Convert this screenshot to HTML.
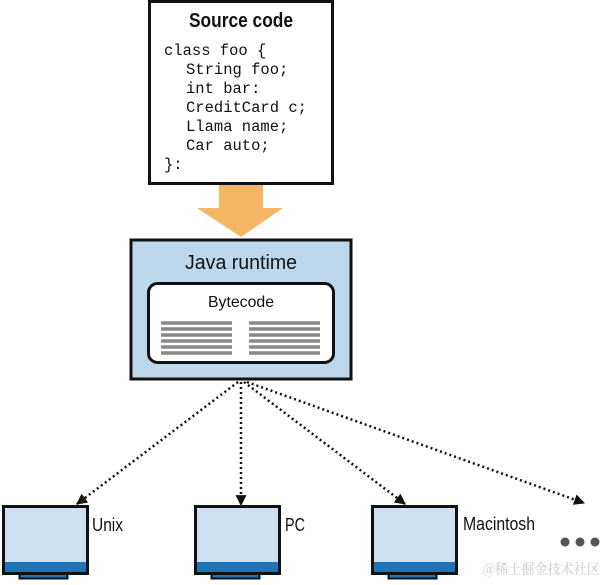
<!DOCTYPE html>
<html><head><style>
body{margin:0;width:600px;height:580px;background:#fff;overflow:hidden}
</style></head><body>
<svg width="600" height="580" xmlns="http://www.w3.org/2000/svg">
<defs>
<marker id="ah" viewBox="0 0 10 10" refX="9" refY="5" markerWidth="11" markerHeight="11" markerUnits="userSpaceOnUse" orient="auto"><path d="M0,0 L10,5 L0,10 z" fill="#111"/></marker>
</defs>
<rect x="149.5" y="1.5" width="183" height="182" fill="#fff" stroke="#111" stroke-width="3"/>
<text x="241" y="27" text-anchor="middle" font-family="Liberation Sans Narrow, Liberation Sans, sans-serif" font-weight="bold" font-size="20" fill="#111" textLength="104" lengthAdjust="spacingAndGlyphs">Source code</text>
<g font-family="Liberation Mono, monospace" font-size="15.5" fill="#111">
<text x="164" y="55">class foo {</text>
<text x="186" y="74">String foo;</text>
<text x="186" y="93">int bar:</text>
<text x="186" y="112">CreditCard c;</text>
<text x="186" y="131">Llama name;</text>
<text x="186" y="150">Car auto;</text>
<text x="164" y="169">}:</text>
</g>
<path d="M219,185 H263 V208 H283 L241,237 L197,208 H219 Z" fill="#f6b666"/>
<rect x="131" y="240" width="220" height="139" fill="#bdd7ea" stroke="#111" stroke-width="3"/>
<text x="241" y="269" text-anchor="middle" font-family="Liberation Sans, sans-serif" font-size="20" fill="#111" textLength="112" lengthAdjust="spacingAndGlyphs">Java runtime</text>
<rect x="148.5" y="283.5" width="185" height="79" rx="9" fill="#fff" stroke="#111" stroke-width="3"/>
<text x="241" y="307" text-anchor="middle" font-family="Liberation Sans, sans-serif" font-size="16" fill="#111" textLength="66" lengthAdjust="spacingAndGlyphs">Bytecode</text>
<g stroke="#888" stroke-width="3.5">
<path d="M161,323 H232 M161,329 H232 M161,335 H232 M161,341 H232 M161,347 H232 M161,353 H232"/>
<path d="M249,323 H320 M249,329 H320 M249,335 H320 M249,341 H320 M249,347 H320 M249,353 H320"/>
</g>
<g stroke="#111" stroke-width="2.5" stroke-dasharray="2 3" fill="none" marker-end="url(#ah)">
<line x1="238" y1="382" x2="77" y2="504"/>
<line x1="241" y1="382" x2="241" y2="505"/>
<line x1="244" y1="382" x2="405" y2="504"/>
<line x1="247" y1="382" x2="584" y2="503"/>
</g>
<g id="mon">
<rect x="19.5" y="572" width="48" height="6.5" fill="#1f73b8" stroke="#111" stroke-width="2"/>
<rect x="3.5" y="506.5" width="84" height="67" fill="#cfe1f0" stroke="#111" stroke-width="3"/>
<rect x="5" y="562" width="81" height="10" fill="#1f73b8"/>
</g>
<use href="#mon" x="192"/>
<use href="#mon" x="369"/>
<g font-family="Liberation Sans Narrow, Liberation Sans, sans-serif" font-size="18" fill="#111">
<text x="92" y="531" textLength="31" lengthAdjust="spacingAndGlyphs">Unix</text>
<text x="285" y="531" textLength="20" lengthAdjust="spacingAndGlyphs">PC</text>
<text x="463" y="530" textLength="72" lengthAdjust="spacingAndGlyphs">Macintosh</text>
</g>
<g fill="#555"><circle cx="565" cy="542" r="4.5"/><circle cx="580" cy="542" r="4.5"/><circle cx="595" cy="542" r="4.5"/></g>
<text x="483" y="574" font-family="Noto Serif CJK SC, serif" font-size="14" fill="#c8c8c8" textLength="117" lengthAdjust="spacingAndGlyphs">@稀土掘金技术社区</text>
</svg>
</body></html>
